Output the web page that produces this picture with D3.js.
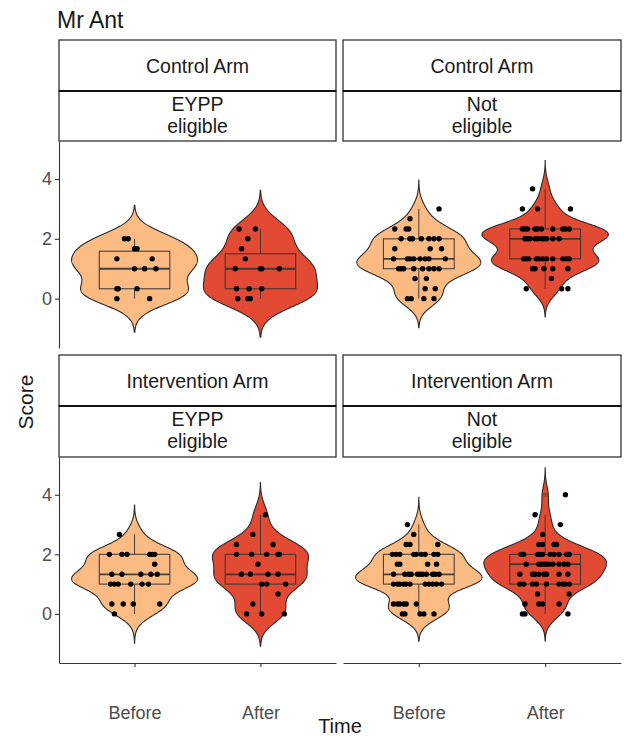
<html>
<head>
    <meta charset="UTF-8" />
    <script src="https://d3js.org/d3.v7.min.js"></script>
    <style>
        body { margin: 0; background: white; }
        text { font-family: "Liberation Sans", Arial, sans-serif; }
        .axis path, .axis line { stroke: #333; stroke-width: 1.1; }
        .axis text { fill: #4d4d4d; font-size: 18px; }
    </style>
</head>
<body>
<svg id="chart" width="624" height="739"></svg>
<script>
// categories / labels
const times = ["Before", "After"];
const arms = ["Control Arm", "Intervention Arm"];
const groups = [["EYPP", "eligible"], ["Not", "eligible"]];
const yTicks = [0, 2, 4];

// each point: [horizontal jitter in category units, score]
const controlEyppBefore = [
    [-0.08, 2], [-0.05, 2], [0.02, 1.67], [0.0, 1.67], [-0.14, 1.33], [0.14, 1.33],
    [0.0, 1], [0.08, 1], [0.17, 1], [-0.14, 0.33], [-0.13, 0.33], [0.02, 0.33],
    [-0.14, 0], [0.12, 0]
];
const controlEyppAfter = [
    [-0.17, 2.33], [-0.04, 2.33], [-0.10, 2], [-0.15, 1.67], [-0.12, 1.33],
    [-0.20, 1], [0.01, 1], [0.0, 1], [0.15, 1], [-0.19, 0.33], [-0.09, 0.33], [0.01, 0.33],
    [-0.18, 0], [-0.10, 0], [-0.08, 0]
];
const controlNotBefore = [
    [0.16, 3], [-0.07, 2.67], [-0.19, 2.33], [-0.10, 2.33], [-0.08, 2.33],
    [-0.14, 2], [-0.07, 2], [-0.05, 2], [0.02, 2], [0.08, 2], [0.12, 2], [0.16, 2],
    [-0.19, 1.67], [0.09, 1.67], [0.18, 1.67],
    [-0.20, 1.33], [-0.09, 1.33], [-0.07, 1.33], [-0.04, 1.33], [0.01, 1.33], [0.05, 1.33], [0.08, 1.33], [0.21, 1.33],
    [-0.16, 1], [-0.14, 1], [-0.12, 1], [-0.04, 1], [0.03, 1], [0.08, 1], [0.12, 1], [0.16, 1],
    [-0.03, 0.67], [0.06, 0.67], [0.05, 0.33], [0.13, 0.33],
    [-0.09, 0], [-0.06, 0], [0.04, 0], [0.12, 0]
];
const controlNotAfter = [
    [-0.10, 3.67], [-0.18, 3], [-0.06, 3], [0.20, 3],
    [-0.18, 2.33], [-0.16, 2.33], [-0.14, 2.33], [-0.08, 2.33], [-0.06, 2.33], [-0.03, 2.33], [0.06, 2.33], [0.14, 2.33], [0.16, 2.33], [0.19, 2.33],
    [-0.16, 2], [-0.14, 2], [-0.12, 2], [-0.08, 2], [-0.06, 2], [-0.03, 2], [-0.01, 2], [0.01, 2], [0.06, 2], [0.11, 2],
    [-0.17, 1.33], [-0.15, 1.33], [-0.13, 1.33], [-0.07, 1.33], [-0.05, 1.33], [-0.02, 1.33], [0.01, 1.33], [0.06, 1.33], [0.14, 1.33], [0.17, 1.33], [0.19, 1.33],
    [-0.10, 1], [-0.08, 1], [-0.01, 1], [0.06, 1], [0.18, 1],
    [0.05, 0.67], [-0.15, 0.33], [0.13, 0.33], [0.18, 0.33]
];
const interventionEyppBefore = [
    [-0.12, 2.67],
    [-0.20, 2], [-0.10, 2], [-0.06, 2], [0.12, 2], [0.14, 2], [0.16, 2],
    [0.16, 1.67],
    [-0.18, 1.33], [-0.10, 1.33], [0.05, 1.33], [0.13, 1.33], [0.18, 1.33],
    [-0.19, 1], [-0.16, 1], [-0.13, 1], [-0.03, 1], [0.06, 1], [0.11, 1],
    [-0.18, 0.33], [-0.09, 0.33], [-0.01, 0.33], [0.20, 0.33],
    [-0.16, 0]
];
const interventionEyppAfter = [
    [0.04, 3.33], [-0.06, 2.67], [-0.19, 2.33], [0.10, 2.33],
    [-0.19, 2], [-0.07, 2], [0.05, 2], [0.14, 2], [0.15, 2],
    [-0.02, 1.67],
    [-0.15, 1.33], [-0.08, 1.33], [0.06, 1.33], [0.14, 1.33],
    [0.01, 1], [0.05, 1], [0.20, 1],
    [0.14, 0.67], [-0.06, 0.33],
    [-0.11, 0], [0.01, 0], [0.19, 0]
];
const interventionNotBefore = [
    [-0.09, 3], [-0.04, 2.67], [-0.10, 2.33], [-0.07, 2.33], [0.15, 2.33],
    [-0.21, 2], [-0.18, 2], [-0.15, 2], [-0.04, 2], [-0.02, 2], [0.02, 2], [0.05, 2], [0.12, 2], [0.15, 2],
    [-0.17, 1.67], [-0.15, 1.67], [0.07, 1.67], [0.14, 1.67],
    [-0.20, 1.33], [-0.11, 1.33], [-0.08, 1.33], [-0.06, 1.33], [-0.01, 1.33], [0.01, 1.33], [0.03, 1.33], [0.06, 1.33], [0.11, 1.33], [0.13, 1.33], [0.16, 1.33],
    [-0.20, 1], [-0.17, 1], [-0.15, 1], [-0.12, 1], [-0.10, 1], [-0.07, 1], [0.05, 1], [0.08, 1], [0.11, 1], [0.14, 1], [0.18, 1],
    [-0.20, 0.33], [-0.17, 0.33], [-0.15, 0.33], [-0.12, 0.33], [-0.10, 0.33], [-0.02, 0.33],
    [-0.13, 0], [-0.11, 0], [0.01, 0], [0.04, 0], [0.12, 0]
];
const interventionNotAfter = [
    [0.16, 4], [-0.08, 3.33], [0.12, 3], [-0.02, 2.67],
    [-0.05, 2.33], [-0.02, 2.33], [0.07, 2.33], [0.09, 2.33],
    [-0.19, 2], [-0.17, 2], [-0.06, 2], [-0.04, 2], [-0.02, 2], [0.04, 2], [0.07, 2], [0.11, 2], [0.17, 2], [0.19, 2],
    [-0.15, 1.67], [-0.05, 1.67], [-0.03, 1.67], [-0.01, 1.67], [0.01, 1.67], [0.03, 1.67], [0.06, 1.67], [0.11, 1.67], [0.15, 1.67], [0.18, 1.67],
    [-0.20, 1.33], [-0.10, 1.33], [-0.08, 1.33], [-0.05, 1.33], [-0.01, 1.33], [0.01, 1.33], [0.11, 1.33], [0.18, 1.33],
    [-0.20, 1], [-0.17, 1], [-0.10, 1], [-0.07, 1], [0.01, 1], [0.11, 1], [0.14, 1], [0.16, 1], [0.19, 1],
    [-0.06, 0.67], [0.19, 0.67],
    [-0.16, 0.33], [-0.05, 0.33], [-0.02, 0.33], [0.11, 0.33],
    [-0.18, 0], [-0.16, 0], [0.18, 0]
];

const panels = [
    {arm: 0, group: 0, row: 0, col: 0, series: [controlEyppBefore, controlEyppAfter]},
    {arm: 0, group: 1, row: 0, col: 1, series: [controlNotBefore, controlNotAfter]},
    {arm: 1, group: 0, row: 1, col: 0, series: [interventionEyppBefore, interventionEyppAfter]},
    {arm: 1, group: 1, row: 1, col: 1, series: [interventionNotBefore, interventionNotAfter]}
];

const fills = ["#fdbb84", "#e34a33"];

// layout
const svg = d3.select("svg#chart");
const cols = [[59, 336], [343, 621]];
const rows = [
    {strip: 40, stripH: 51, plot: [141, 348]},
    {strip: 355, stripH: 51, plot: [457, 663]}
];
const yDomain = [-1.65, 5.27];

function nrd0(vals) {
    const s = d3.deviation(vals);
    const sorted = vals.slice().sort(d3.ascending);
    const iqr = d3.quantileSorted(sorted, 0.75) - d3.quantileSorted(sorted, 0.25);
    let lo = Math.min(s, iqr / 1.34);
    if (!lo) lo = s || 1;
    return 0.9 * lo * Math.pow(vals.length, -0.2);
}

function kde(vals) {
    const bw = nrd0(vals);
    const lo = d3.min(vals) - 3 * bw, hi = d3.max(vals) + 3 * bw;
    return d3.range(512).map(i => {
        const v = lo + (hi - lo) * i / 511;
        const d = d3.mean(vals, x => Math.exp(-0.5 * ((v - x) / bw) ** 2)) / (bw * Math.sqrt(2 * Math.PI));
        return {v: v, d: d};
    });
}

function boxStats(vals) {
    const s = vals.slice().sort(d3.ascending);
    const q1 = d3.quantileSorted(s, 0.25), med = d3.quantileSorted(s, 0.5), q3 = d3.quantileSorted(s, 0.75);
    const iqr = q3 - q1;
    const inside = s.filter(v => v >= q1 - 1.5 * iqr && v <= q3 + 1.5 * iqr);
    return {q1, med, q3, lo: d3.min(inside), hi: d3.max(inside),
            out: s.filter(v => v < q1 - 1.5 * iqr || v > q3 + 1.5 * iqr)};
}

// title
svg.append("text").attr("x", 57).attr("y", 28)
   .style("font-size", "23px").style("fill", "#1a1a1a").text("Mr Ant");

panels.forEach(p => {
    const [x0, x1] = cols[p.col];
    const r = rows[p.row];
    const x = d3.scaleLinear().domain([0.4, 2.6]).range([x0, x1]);
    const y = d3.scaleLinear().domain(yDomain).range([r.plot[1], r.plot[0]]);
    const g = svg.append("g");

    // strips
    const s1 = r.strip, s2 = r.strip + r.stripH, s3 = r.plot[0];
    g.append("rect").attr("x", x0).attr("y", s1).attr("width", x1 - x0).attr("height", s2 - s1)
     .attr("fill", "white").attr("stroke", "#333").attr("stroke-width", 1.3);
    g.append("rect").attr("x", x0).attr("y", s2).attr("width", x1 - x0).attr("height", s3 - s2)
     .attr("fill", "white").attr("stroke", "#333").attr("stroke-width", 1.3);
    g.append("line").attr("x1", x0).attr("x2", x1).attr("y1", s2).attr("y2", s2)
     .attr("stroke", "#111").attr("stroke-width", 2);
    g.append("text").attr("x", (x0 + x1) / 2).attr("y", (s1 + s2) / 2 + 7)
     .attr("text-anchor", "middle").style("font-size", "19.5px").style("fill", "#1a1a1a")
     .text(arms[p.arm]);
    const t = g.append("text").attr("text-anchor", "middle").style("font-size", "19.5px").style("fill", "#1a1a1a");
    groups[p.group].forEach((line, i) => {
        t.append("tspan").attr("x", (x0 + x1) / 2).attr("y", s2 + 20 + i * 22).text(line);
    });

    // violins, scaled by area within the panel
    const vals = p.series.map(pts => pts.map(d => d[1]));
    const dens = vals.map(kde);
    const maxD = d3.max(dens, ds => d3.max(ds, d => d.d));
    const halfW = 0.5;

    dens.forEach((ds, i) => {
        const c = i + 1;
        const area = d3.area()
            .y(d => y(d.v))
            .x0(d => x(c - d.d / maxD * halfW))
            .x1(d => x(c + d.d / maxD * halfW));
        g.append("path").attr("d", area(ds))
         .attr("fill", fills[i]).attr("stroke", "#2b2b2b").attr("stroke-width", 1.1);
    });

    // boxplots
    vals.forEach((v, i) => {
        const c = i + 1, b = boxStats(v), bw = 0.28;
        const bg = g.append("g").attr("stroke", "#333").attr("stroke-opacity", 0.9).attr("fill", "none");
        bg.append("line").attr("x1", x(c)).attr("x2", x(c)).attr("y1", y(b.hi)).attr("y2", y(b.q3));
        bg.append("line").attr("x1", x(c)).attr("x2", x(c)).attr("y1", y(b.q1)).attr("y2", y(b.lo));
        bg.append("rect").attr("x", x(c - bw)).attr("width", x(c + bw) - x(c - bw))
          .attr("y", y(b.q3)).attr("height", y(b.q1) - y(b.q3)).attr("stroke-width", 1.1);
        bg.append("line").attr("x1", x(c - bw)).attr("x2", x(c + bw))
          .attr("y1", y(b.med)).attr("y2", y(b.med)).attr("stroke-width", 1.8);
        b.out.forEach(o => {
            g.append("circle").attr("cx", x(c)).attr("cy", y(o)).attr("r", 2.2)
             .attr("fill", "#333").attr("opacity", 0.4);
        });
    });

    // jittered points
    p.series.forEach((pts, i) => {
        g.selectAll(null).data(pts).join("circle")
         .attr("cx", d => x(i + 1 + d[0]))
         .attr("cy", d => y(d[1]))
         .attr("r", 2.7)
         .attr("fill", "black");
    });

    // axes on outer panels only
    if (p.col === 0) {
        g.append("g").attr("class", "axis")
         .attr("transform", "translate(" + x0 + ",0)")
         .call(d3.axisLeft(y).tickValues(yTicks).tickFormat(d3.format("d"))
               .tickSize(4).tickSizeOuter(0).tickPadding(3));
    }
    if (p.row === 1) {
        g.append("g").attr("class", "axis")
         .attr("transform", "translate(0," + r.plot[1] + ")")
         .call(d3.axisBottom(x).tickValues([1, 2]).tickFormat((d, i) => times[i])
               .tickSize(4).tickSizeOuter(0).tickPadding(39));
    }
});

// axis titles
svg.append("text").attr("transform", "translate(33,402) rotate(-90)")
   .attr("text-anchor", "middle").style("font-size", "21px").style("fill", "#1a1a1a").text("Score");
svg.append("text").attr("x", 340).attr("y", 733)
   .attr("text-anchor", "middle").style("font-size", "20px").style("fill", "#1a1a1a").text("Time");
</script>
</body>
</html>
